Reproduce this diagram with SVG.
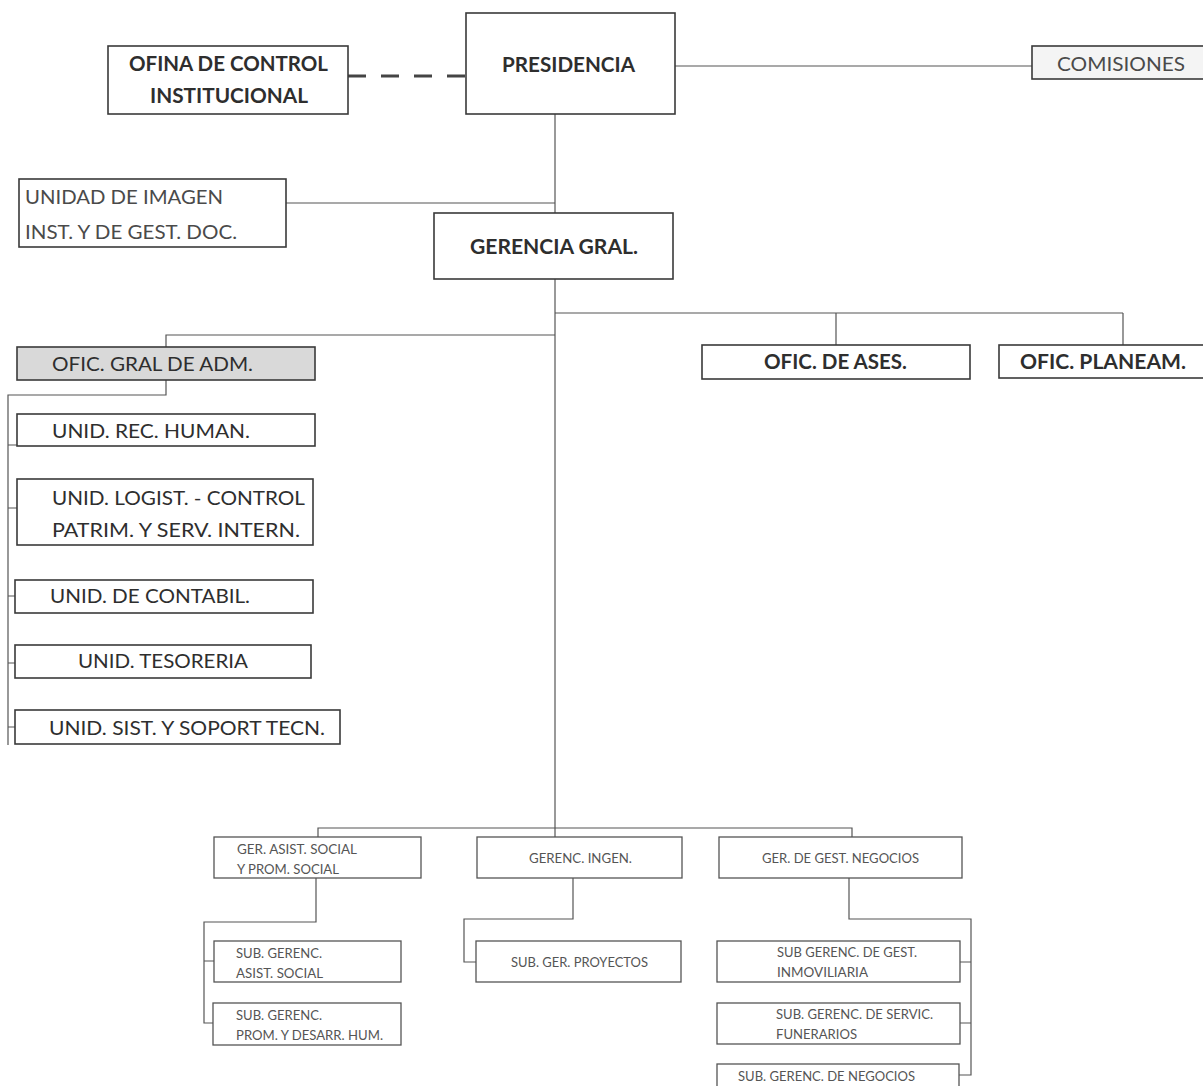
<svg xmlns="http://www.w3.org/2000/svg" width="1203" height="1086" viewBox="0 0 1203 1086">
<style>
.bx{fill:#fff;stroke:#3a3a3a;stroke-width:1.6}
.bs{fill:#fff;stroke:#555;stroke-width:1.3}
.gray{fill:#d9d9d9}
.lt{fill:#f4f4f4}
.ln{fill:none;stroke:#555;stroke-width:1.2}
.dash{fill:none;stroke:#444;stroke-width:3;stroke-dasharray:18 15}
text{font-family:Lato,"Open Sans","Liberation Sans",sans-serif;fill:#2e2e2e}
.b{font-weight:bold;font-size:20px}
.r{font-size:19px}
.g{fill:#4a4a4a}
.s{font-size:13px;fill:#555}
</style>
<rect width="1203" height="1086" fill="#fff"/>
<g id="connectors">
<path class="dash" d="M348,76 H466"/>
<path class="ln" d="M675,66 H1032"/>
<path class="ln" d="M555,114 V213"/>
<path class="ln" d="M286,203 H555"/>
<path class="ln" d="M555,279 V837"/>
<path class="ln" d="M555,313 H1123 M836,313 V345 M1123,313 V345"/>
<path class="ln" d="M555,335 H166 V347"/>
<path class="ln" d="M166,380 V395 H8 V745 M8,445 H17 M8,508 H17 M8,596 H15 M8,663 H15 M8,727 H15"/>
<path class="ln" d="M318,837 V828 H852 V837"/>
<path class="ln" d="M316,878 V922 H204 V1023 H213 M204,961 H214"/>
<path class="ln" d="M573,878 V919 H464 V962 H476"/>
<path class="ln" d="M849,878 V919 H971 V1075 H959 M971,962 H960 M971,1023 H960"/>
</g>
<g id="ofina-control">
<rect class="bx" x="108" y="46" width="240" height="68"/>
<text class="b" x="129" y="71" textLength="199" lengthAdjust="spacingAndGlyphs">OFINA DE CONTROL</text>
<text class="b" x="150" y="103" textLength="158" lengthAdjust="spacingAndGlyphs">INSTITUCIONAL</text>
</g>
<g id="presidencia">
<rect class="bx" x="466" y="13" width="209" height="101"/>
<text class="b" x="502" y="72" textLength="133" lengthAdjust="spacingAndGlyphs">PRESIDENCIA</text>
</g>
<g id="comisiones">
<rect class="bx lt" x="1032" y="46" width="180" height="33"/>
<text class="r g" x="1057" y="71" textLength="128" lengthAdjust="spacingAndGlyphs">COMISIONES</text>
</g>
<g id="unidad-imagen">
<rect class="bx" x="19" y="179" width="267" height="68"/>
<text class="r g" x="25" y="204" textLength="198" lengthAdjust="spacingAndGlyphs">UNIDAD DE IMAGEN</text>
<text class="r g" x="25" y="239" textLength="212" lengthAdjust="spacingAndGlyphs">INST. Y DE GEST. DOC.</text>
</g>
<g id="gerencia-gral">
<rect class="bx" x="434" y="213" width="239" height="66"/>
<text class="b" x="470" y="254" textLength="168" lengthAdjust="spacingAndGlyphs">GERENCIA GRAL.</text>
</g>
<g id="ofic-gral-adm">
<rect class="bx gray" x="17" y="347" width="298" height="33"/>
<text class="r" x="52" y="371" textLength="201" lengthAdjust="spacingAndGlyphs">OFIC. GRAL DE ADM.</text>
</g>
<g id="ofic-ases">
<rect class="bx" x="702" y="345" width="268" height="34"/>
<text class="b" x="764" y="369" textLength="143" lengthAdjust="spacingAndGlyphs">OFIC. DE ASES.</text>
</g>
<g id="ofic-planeam">
<rect class="bx" x="999" y="345" width="210" height="33"/>
<text class="b" x="1020" y="369" textLength="166" lengthAdjust="spacingAndGlyphs">OFIC. PLANEAM.</text>
</g>
<g id="unid-rec-human">
<rect class="bx" x="17" y="414" width="298" height="32"/>
<text class="r" x="52" y="438" textLength="198" lengthAdjust="spacingAndGlyphs">UNID. REC. HUMAN.</text>
</g>
<g id="unid-logist">
<rect class="bx" x="17" y="479" width="296" height="66"/>
<text class="r" x="52" y="505" textLength="253" lengthAdjust="spacingAndGlyphs">UNID. LOGIST. - CONTROL</text>
<text class="r" x="52" y="537" textLength="248" lengthAdjust="spacingAndGlyphs">PATRIM. Y SERV. INTERN.</text>
</g>
<g id="unid-contabil">
<rect class="bx" x="15" y="580" width="298" height="33"/>
<text class="r" x="50" y="603" textLength="200" lengthAdjust="spacingAndGlyphs">UNID. DE CONTABIL.</text>
</g>
<g id="unid-tesoreria">
<rect class="bx" x="15" y="645" width="296" height="33"/>
<text class="r" x="78" y="668" textLength="170" lengthAdjust="spacingAndGlyphs">UNID. TESORERIA</text>
</g>
<g id="unid-sist">
<rect class="bx" x="15" y="710" width="325" height="34"/>
<text class="r" x="49" y="735" textLength="276" lengthAdjust="spacingAndGlyphs">UNID. SIST. Y SOPORT TECN.</text>
</g>
<g id="ger-asist-social">
<rect class="bs" x="214" y="837" width="207" height="41"/>
<text class="s" x="237" y="854" textLength="120" lengthAdjust="spacingAndGlyphs">GER. ASIST. SOCIAL</text>
<text class="s" x="237" y="874" textLength="102" lengthAdjust="spacingAndGlyphs">Y PROM. SOCIAL</text>
</g>
<g id="gerenc-ingen">
<rect class="bs" x="477" y="837" width="205" height="41"/>
<text class="s" x="529" y="863" textLength="103" lengthAdjust="spacingAndGlyphs">GERENC. INGEN.</text>
</g>
<g id="ger-gest-negocios">
<rect class="bs" x="719" y="837" width="243" height="41"/>
<text class="s" x="762" y="863" textLength="157" lengthAdjust="spacingAndGlyphs">GER. DE GEST. NEGOCIOS</text>
</g>
<g id="sub-asist-social">
<rect class="bs" x="214" y="941" width="187" height="41"/>
<text class="s" x="236" y="958" textLength="86" lengthAdjust="spacingAndGlyphs">SUB. GERENC.</text>
<text class="s" x="236" y="978" textLength="87" lengthAdjust="spacingAndGlyphs">ASIST. SOCIAL</text>
</g>
<g id="sub-prom-desarr">
<rect class="bs" x="213" y="1003" width="188" height="42"/>
<text class="s" x="236" y="1020" textLength="86" lengthAdjust="spacingAndGlyphs">SUB. GERENC.</text>
<text class="s" x="236" y="1040" textLength="147" lengthAdjust="spacingAndGlyphs">PROM. Y DESARR. HUM.</text>
</g>
<g id="sub-proyectos">
<rect class="bs" x="476" y="941" width="205" height="41"/>
<text class="s" x="511" y="967" textLength="137" lengthAdjust="spacingAndGlyphs">SUB. GER. PROYECTOS</text>
</g>
<g id="sub-inmoviliaria">
<rect class="bs" x="717" y="941" width="243" height="41"/>
<text class="s" x="777" y="957" textLength="140" lengthAdjust="spacingAndGlyphs">SUB GERENC. DE GEST.</text>
<text class="s" x="777" y="977" textLength="91" lengthAdjust="spacingAndGlyphs">INMOVILIARIA</text>
</g>
<g id="sub-funerarios">
<rect class="bs" x="717" y="1003" width="243" height="41"/>
<text class="s" x="776" y="1019" textLength="157" lengthAdjust="spacingAndGlyphs">SUB. GERENC. DE SERVIC.</text>
<text class="s" x="776" y="1039" textLength="81" lengthAdjust="spacingAndGlyphs">FUNERARIOS</text>
</g>
<g id="sub-negocios">
<rect class="bs" x="717" y="1064" width="242" height="34"/>
<text class="s" x="738" y="1081" textLength="177" lengthAdjust="spacingAndGlyphs">SUB. GERENC. DE NEGOCIOS</text>
</g>
</svg>
